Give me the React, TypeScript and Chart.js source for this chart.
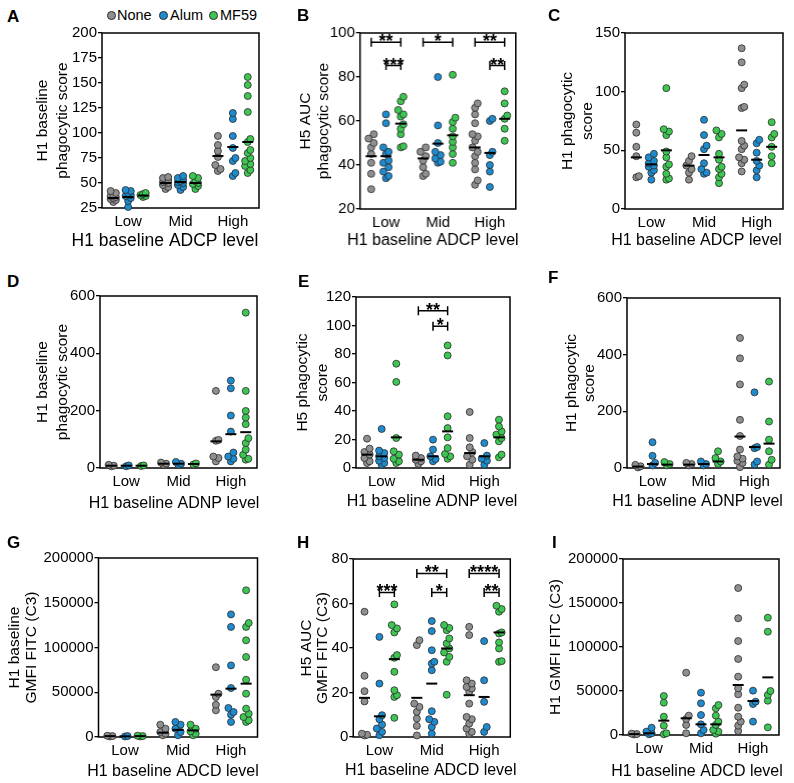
import React, { useEffect, useRef } from 'react';
import { Chart, registerables } from 'chart.js';
Chart.register(...registerables);

const FONT = "'Liberation Sans', Arial, Helvetica, sans-serif";

const levels = ['Low', 'Mid', 'High'];
const groups = ['None', 'Alum', 'MF59'];
const groupColors = ['#8f8f8f', '#1e8bcf', '#3ec653'];
const groupOffsets = [-0.285, 0, 0.285];

// ---------- Panel A ----------
const aNone = [[31, 33, 34, 35, 36, 37, 38, 40, 42], [44, 46, 48, 50, 51, 52, 53, 55, 56], [62, 64, 68, 76, 82, 88, 97]];
const aAlum = [[26, 32, 35, 37, 38, 40, 42, 43], [43, 46, 48, 50, 51, 52, 53, 55, 57], [57, 60, 72, 75, 85, 97, 114, 120]];
const aMf59 = [[36, 37, 38, 39, 40], [44, 47, 49, 50, 52, 55, 57], [60, 63, 67, 69, 72, 75, 80, 83, 91, 94, 121, 137, 148, 156]];
const aMedians = [[35, 50, 77], [36, 51, 86], [37.5, 50, 91]];
const aTicks = { min: 25, max: 200, step: 25 };

// ---------- Panel B ----------
const bNone = [[29, 36, 41, 45, 48, 50, 52, 54], [35, 36, 39, 42, 44, 46, 48], [31, 33, 38, 41, 44, 46, 48, 51, 53, 54, 59, 63, 66, 68]];
const bAlum = [[34, 35, 37, 39, 41, 42, 45, 46, 48, 59, 63], [41, 41.5, 43, 44.5, 46, 50, 58, 80], [30, 37, 40, 44.5, 46, 60, 61]];
const bMf59 = [[48, 48.5, 54, 56.5, 58.5, 62, 63, 65, 69, 71], [41, 45, 48, 50.5, 53, 56.5, 59.5, 61.5, 81], [51, 56.5, 61, 62.5, 68, 73.5]];
const bMedians = [[44, 43, 48], [44, 49.7, 45.5], [58.8, 53.5, 61]];
const bTicks = { min: 20, max: 100, step: 20 };
const bBrackets = [
  { level: 0, from: 0, to: 2, y: 95.8, label: '**' },
  { level: 0, from: 1, to: 2, y: 85.2, label: '***' },
  { level: 1, from: 0, to: 2, y: 95.8, label: '*' },
  { level: 2, from: 0, to: 2, y: 95.8, label: '**' },
  { level: 2, from: 1, to: 2, y: 85.2, label: '**' },
];

// ---------- Panel C ----------
const cNone = [[27, 28, 45, 53, 65, 72], [25, 31, 34, 37, 41, 45], [32, 39, 42, 44, 51, 54, 58, 86, 87, 103, 106, 125, 137]];
const cAlum = [[25, 31, 33, 36, 37, 39, 41, 44, 47], [30, 31, 34, 39, 51, 54, 63, 76], [27, 33, 37, 41, 48, 56, 59]];
const cMf59 = [[25, 26, 30, 36, 38, 44, 49, 63, 66, 68, 103], [22, 27, 30, 34, 36, 42, 47, 61, 64, 67], [39, 45, 53, 61, 64, 74]];
const cMedians = [[44, 37, 67], [38, 46, 42], [50, 44, 53]];
const cTicks = { min: 0, max: 150, step: 50 };

// ---------- Panel D ----------
const dNone = [[6, 8, 11], [11, 15, 19], [23, 35, 40, 95, 98, 269]];
const dAlum = [[6, 9], [11, 15, 21], [23, 32, 40, 54, 127, 183, 278, 305]];
const dMf59 = [[7, 9], [12, 16], [29, 32, 46, 64, 87, 104, 153, 176, 199, 269, 542]];
const dMedians = [[8, 15, 93], [8, 15, 118], [8, 14, 125]];
const dTicks = { min: 0, max: 600, step: 200 };

// ---------- Panel E ----------
const eNone = [[3.5, 4.7, 7, 9.4, 11.2, 13.6, 20.6], [2.8, 4.7, 5.8, 7, 8.7], [2.3, 5.8, 8.2, 11.2, 14.5, 21, 39.3]];
const eAlum = [[2.3, 3.5, 5.1, 7, 8.2, 10.5, 12.2, 27.4], [4.7, 6.3, 8.2, 12.9, 19.9], [2.3, 5.1, 6.5, 8.7, 17.5]];
const eMf59 = [[3.5, 4.7, 6.5, 9.4, 11.7, 21, 60.4, 73.2], [6.5, 8.2, 9.8, 14, 21.5, 28, 36.3, 79, 86], [7.5, 9.4, 18.7, 21, 23.4, 25.7, 29.2, 33.9]];
const eMedians = [[9.4, 5.8, 10.5], [8.2, 8.2, 8.2], [21.5, 25.7, 21.5]];
const eTicks = { min: 0, max: 120, step: 20 };
const eBrackets = [
  { level: 1, from: 0, to: 2, y: 110.4, label: '**' },
  { level: 1, from: 1, to: 2, y: 99.4, label: '*' },
];

// ---------- Panel F ----------
const fNone = [[2, 6, 11], [9, 14, 18], [3, 18, 25, 33, 41, 65, 113, 170, 295, 387, 459]];
const fAlum = [[9, 18, 43, 91], [9, 14, 23], [12, 23, 70, 74, 267]];
const fMf59 = [[9, 14, 21], [14, 23, 35, 59], [12, 29, 59, 100, 164, 305]];
const fMedians = [[5, 12, 111], [14, 14, 74], [12, 23, 86]];
const fTicks = { min: 0, max: 600, step: 200 };

// ---------- Panel G ----------
const gNone = [[600, 1000, 1400], [1900, 3700, 5600, 9300, 13800], [29800, 36100, 44700, 48400, 78000]];
const gAlum = [[600, 1000], [1900, 5600, 9300, 13800, 16800], [16800, 25000, 27900, 32400, 54700, 80000, 123000, 137000]];
const gMf59 = [[600, 1000, 1400], [1900, 3700, 6300, 9300, 13800], [16800, 18600, 22300, 26000, 31700, 48400, 64000, 89400, 108000, 123000, 127400, 163900]];
const gMedians = [[1000, 4800, 47300], [800, 8000, 54000], [1000, 7400, 59600]];
const gTicks = { min: 0, max: 200000, step: 50000 };

// ---------- Panel H ----------
const hNone = [[0.7, 1, 1.5, 16, 20.6, 27.5, 56.3], [0.7, 5, 8.3, 11.3, 13.5, 15, 41.3, 43.5], [1.5, 2.3, 3.8, 6, 8, 9, 15, 20.3, 21.8, 22.5, 24, 25.5, 45.8, 49.5]];
const hAlum = [[0.8, 2.3, 3.8, 5.6, 8, 9.8, 24, 45], [1.5, 4.5, 6.8, 8, 11.6, 30, 33, 33.8, 39, 47.6, 52.1], [2.3, 4.5, 15.8, 25.5, 43.1]];
const hMf59 = [[8.6, 18, 18.8, 21, 29.3, 35.6, 36.8, 47, 48.8, 50.3, 59.6], [19, 33.8, 36, 38, 39.8, 42, 44.3, 48, 49, 50.3], [33.8, 34.1, 39.8, 42.5, 46.5, 47, 56.3, 57.5, 59]];
const hMedians = [[17.6, 17.6, 18.8], [9.3, 24, 18], [35, 39.8, 47]];
const hTicks = { min: 0, max: 80, step: 20 };
const hBrackets = [
  { level: 0, from: 1, to: 2, y: 65, label: '***' },
  { level: 1, from: 0, to: 2, y: 73.5, label: '**' },
  { level: 1, from: 1, to: 2, y: 65, label: '*' },
  { level: 2, from: 0, to: 2, y: 73.5, label: '****' },
  { level: 2, from: 1, to: 2, y: 65, label: '**' },
];

// ---------- Panel I ----------
const iNone = [[600, 1000, 1500], [1900, 11400, 18200, 22000, 70800], [4500, 10600, 15200, 20800, 31000, 46200, 53000, 66300, 86400, 106800, 132600, 167000]];
const iAlum = [[800, 1900, 3800, 8300], [1900, 5700, 12100, 22700, 36000, 48100], [15200, 35200, 37900, 50400]];
const iMf59 = [[800, 1900, 10600, 20800, 36700, 44300], [1500, 3800, 5700, 11400, 15200, 22000, 30300, 34000], [8700, 39000, 45500, 50000, 117400, 133300]];
const iMedians = [[1000, 19000, 56800], [2000, 12100, 38600], [16300, 12100, 65500]];
const iTicks = { min: 0, max: 200000, step: 50000 };

type Bracket = { level: number; from: number; to: number; y: number; label: string };
type Panel = {
  letter: string;
  series: number[][][];
  medians: number[][];
  ticks: { min: number; max: number; step: number };
  brackets: Bracket[];
  yTitle: string[];
  xTitle: string;
  plot: { l: number; t: number; r: number; b: number };
  yT1: number;
  yLh: number;
  xTitleX: number;
  xTitleY: number;
  xTitleSize: number;
  letterX: number;
  letterBase: number;
};

const panels: Panel[] = [
  { letter: 'A', series: [aNone, aAlum, aMf59], medians: aMedians, ticks: aTicks, brackets: [], yTitle: ['H1 baseline', 'phagocytic score'], xTitle: 'H1 baseline ADCP level', plot: { l: 102, t: 33, r: 259, b: 208 }, yT1: 43, yLh: 20, xTitleX: 165, xTitleY: 240.7, xTitleSize: 17.5, letterX: 7, letterBase: 22 },
  { letter: 'B', series: [bNone, bAlum, bMf59], medians: bMedians, ticks: bTicks, brackets: bBrackets, yTitle: ['H5 AUC', 'phagocytic score'], xTitle: 'H1 baseline ADCP level', plot: { l: 360, t: 33, r: 515, b: 209 }, yT1: 306, yLh: 17.5, xTitleX: 432.5, xTitleY: 240.7, xTitleSize: 16, letterX: 297, letterBase: 21 },
  { letter: 'C', series: [cNone, cAlum, cMf59], medians: cMedians, ticks: cTicks, brackets: [], yTitle: ['H1 phagocytic', 'score'], xTitle: 'H1 baseline ADCP level', plot: { l: 625, t: 33, r: 783, b: 209 }, yT1: 568, yLh: 20, xTitleX: 696.5, xTitleY: 241, xTitleSize: 16, letterX: 548, letterBase: 21 },
  { letter: 'D', series: [dNone, dAlum, dMf59], medians: dMedians, ticks: dTicks, brackets: [], yTitle: ['H1 baseline', 'phagocytic score'], xTitle: 'H1 baseline ADNP level', plot: { l: 100, t: 296, r: 257, b: 468 }, yT1: 43, yLh: 20, xTitleX: 174, xTitleY: 504, xTitleSize: 16, letterX: 7, letterBase: 287 },
  { letter: 'E', series: [eNone, eAlum, eMf59], medians: eMedians, ticks: eTicks, brackets: eBrackets, yTitle: ['H5 phagocytic', 'score'], xTitle: 'H1 baseline ADNP level', plot: { l: 356, t: 297, r: 510, b: 468 }, yT1: 303, yLh: 20, xTitleX: 432, xTitleY: 502, xTitleSize: 16, letterX: 298, letterBase: 287 },
  { letter: 'F', series: [fNone, fAlum, fMf59], medians: fMedians, ticks: fTicks, brackets: [], yTitle: ['H1 phagocytic', 'score'], xTitle: 'H1 baseline ADNP level', plot: { l: 627, t: 298, r: 780, b: 468 }, yT1: 572, yLh: 18, xTitleX: 697.5, xTitleY: 502, xTitleSize: 16, letterX: 548, letterBase: 283 },
  { letter: 'G', series: [gNone, gAlum, gMf59], medians: gMedians, ticks: gTicks, brackets: [], yTitle: ['H1 baseline', 'GMFI FITC (C3)'], xTitle: 'H1 baseline ADCD level', plot: { l: 98, t: 558, r: 257, b: 737 }, yT1: 14, yLh: 17, xTitleX: 172.5, xTitleY: 772, xTitleSize: 16, letterX: 7, letterBase: 548 },
  { letter: 'H', series: [hNone, hAlum, hMf59], medians: hMedians, ticks: hTicks, brackets: hBrackets, yTitle: ['H5 AUC', 'GMFI FITC (C3)'], xTitle: 'H1 baseline ADCD level', plot: { l: 353, t: 559, r: 510, b: 737 }, yT1: 306, yLh: 16.5, xTitleX: 430.5, xTitleY: 771, xTitleSize: 16, letterX: 297, letterBase: 548 },
  { letter: 'I', series: [iNone, iAlum, iMf59], medians: iMedians, ticks: iTicks, brackets: [], yTitle: ['H1 GMFI FITC (C3)'], xTitle: 'H1 baseline ADCD level', plot: { l: 623, t: 559, r: 779, b: 735 }, yT1: 556, yLh: 18, xTitleX: 697, xTitleY: 772, xTitleSize: 16, letterX: 552, letterBase: 548 },
];

// Narrow beeswarm-style horizontal dodge (layout only): returns x offsets in axis units
function swarmOffsets(values: number[], pxPerY: number, pxPerX: number): number[] {
  const order = values.map((_, i) => i).sort((a, b) => values[a] - values[b]);
  const placed: { x: number; y: number }[] = [];
  const out = new Array(values.length).fill(0);
  const step = 2.6;
  const minD = 5.2;
  const cands = [0, 1, -1];
  for (const i of order) {
    const yp = values[i] * pxPerY;
    let chosen: number | null = null;
    let best = 0;
    let bestD = -1;
    for (const c of cands) {
      const xp = c * step;
      let md = Infinity;
      for (const p of placed) {
        const d = Math.hypot(xp - p.x, yp - p.y);
        if (d < md) md = d;
      }
      if (md >= minD) { chosen = xp; break; }
      if (md > bestD) { bestD = md; best = xp; }
    }
    const xp = chosen === null ? best : chosen;
    placed.push({ x: xp, y: yp });
    out[i] = xp / pxPerX;
  }
  return out;
}

function geometry(p: Panel) {
  const left = p.yT1 - p.yLh / 2;
  const top = p.plot.t - 15;
  const right = Math.min(p.plot.r + 12, 792);
  const bottom = p.plot.b + 48;
  return { left, top, width: right - left, height: bottom - top, padRight: right - p.plot.r };
}

function buildChart(canvas: HTMLCanvasElement, p: Panel) {
  const g = geometry(p);
  const pxPerX = (p.plot.r - p.plot.l) / 3;
  const pxPerY = (p.plot.b - p.plot.t) / (p.ticks.max - p.ticks.min);
  const Wy = p.plot.l - g.left;

  const medianData: { x: number; y: number }[] = [];
  p.medians.forEach((row, gi) => row.forEach((m, ci) => medianData.push({ x: ci + 0.5 + groupOffsets[gi], y: m })));

  const pointSets = p.series.map((grp, gi) => {
    const data: { x: number; y: number }[] = [];
    grp.forEach((vals, ci) => {
      const offs = swarmOffsets(vals, pxPerY, pxPerX);
      vals.forEach((v, k) => data.push({ x: ci + 0.5 + groupOffsets[gi] + offs[k], y: v }));
    });
    return {
      label: groups[gi],
      data,
      pointBackgroundColor: groupColors[gi],
      pointBorderColor: '#2b2b2b',
      pointBorderWidth: 0.8,
      pointRadius: 3.5,
      pointHoverRadius: 3.5,
      order: 1,
      clip: false as any,
    };
  });

  const decor = {
    id: 'decor' + p.letter,
    beforeDatasetsDraw(chart: any) {
      const { ctx, chartArea: ca } = chart;
      ctx.save();
      ctx.strokeStyle = '#000';
      ctx.lineWidth = 1.5;
      ctx.strokeRect(ca.left, ca.top, ca.right - ca.left, ca.bottom - ca.top);
      ctx.restore();
    },
    afterDatasetsDraw(chart: any) {
      const { ctx, scales } = chart;
      const xs = scales.x;
      const ys = scales.y;
      ctx.save();
      ctx.strokeStyle = '#000';
      ctx.fillStyle = '#000';
      ctx.lineWidth = 1.5;
      for (const br of p.brackets) {
        const x1 = xs.getPixelForValue(br.level + 0.5 + groupOffsets[br.from]);
        const x2 = xs.getPixelForValue(br.level + 0.5 + groupOffsets[br.to]);
        const yy = ys.getPixelForValue(br.y);
        ctx.beginPath();
        ctx.moveTo(x1, yy); ctx.lineTo(x2, yy);
        ctx.moveTo(x1, yy - 4.5); ctx.lineTo(x1, yy + 4.5);
        ctx.moveTo(x2, yy - 4.5); ctx.lineTo(x2, yy + 4.5);
        ctx.stroke();
        ctx.font = `bold 18px ${FONT}`;
        ctx.textAlign = 'center';
        ctx.textBaseline = 'alphabetic';
        ctx.fillText(br.label, (x1 + x2) / 2, yy + 5);
      }
      ctx.font = `${p.xTitleSize}px ${FONT}`;
      ctx.textAlign = 'center';
      ctx.textBaseline = 'middle';
      ctx.fillText(p.xTitle, p.xTitleX - g.left, p.xTitleY - g.top);
      ctx.restore();
    },
  };

  return new Chart(canvas, {
    type: 'scatter',
    data: {
      datasets: [
        {
          label: 'median',
          data: medianData,
          pointStyle: 'line',
          pointRadius: 5.5,
          pointHoverRadius: 5.5,
          pointBorderWidth: 2,
          pointBorderColor: '#000',
          pointBackgroundColor: '#000',
          order: 0,
          clip: false as any,
        } as any,
        ...(pointSets as any[]),
      ],
    },
    options: {
      animation: false,
      responsive: true,
      maintainAspectRatio: false,
      events: [],
      layout: { padding: { top: 15, right: g.padRight, left: 0, bottom: 0 } },
      plugins: { legend: { display: false }, tooltip: { enabled: false }, title: { display: false } },
      scales: {
        x: {
          type: 'linear',
          min: 0,
          max: 3,
          afterBuildTicks: (s: any) => { s.ticks = levels.map((_, i) => ({ value: i + 0.5 })); },
          afterFit: (s: any) => { s.height = 48; },
          ticks: {
            callback: (_v: any, i: number) => levels[i],
            font: { family: FONT, size: 15 },
            color: '#000',
            padding: 5,
            maxRotation: 0,
            autoSkip: false,
          },
          grid: { display: false, drawTicks: false },
          border: { display: false },
        },
        y: {
          type: 'linear',
          min: p.ticks.min,
          max: p.ticks.max,
          afterFit: (s: any) => { s.width = Wy; },
          ticks: {
            stepSize: p.ticks.step,
            callback: (v: any) => String(v),
            font: { family: FONT, size: 15 },
            color: '#000',
            padding: 1,
          },
          grid: { display: true, drawOnChartArea: false, drawTicks: true, tickLength: 4, color: '#000', lineWidth: 1.3 },
          border: { display: false },
          title: {
            display: true,
            text: p.yTitle,
            color: '#000',
            padding: 0,
            font: { family: FONT, size: 15.5, lineHeight: p.yLh + 'px' },
          },
        },
      },
    } as any,
    plugins: [decor],
  });
}

function PanelChart({ panel }: { panel: Panel }) {
  const ref = useRef<HTMLCanvasElement | null>(null);
  useEffect(() => {
    if (!ref.current) return;
    const chart = buildChart(ref.current, panel);
    return () => chart.destroy();
  }, [panel]);
  const g = geometry(panel);
  return (
    <div style={{ position: 'absolute', left: g.left, top: g.top, width: g.width, height: g.height }}>
      <canvas ref={ref} />
    </div>
  );
}

const legendCircleX = [111, 163, 213];
const legendTextX = [117, 170, 220];

export default function App() {
  return (
    <div style={{ position: 'absolute', left: 0, top: 0, width: 794, height: 783, overflow: 'hidden', background: '#fff', fontFamily: FONT, color: '#000' }}>
      {groups.map((name, i) => (
        <React.Fragment key={name}>
          <div style={{ position: 'absolute', left: legendCircleX[i] - 4.2, top: 10.8, width: 6.8, height: 6.8, borderRadius: '50%', background: groupColors[i], border: '0.8px solid #2b2b2b' }} />
          <div style={{ position: 'absolute', left: legendTextX[i], top: 6, fontSize: 14.5, lineHeight: '18px', whiteSpace: 'nowrap' }}>{name}</div>
        </React.Fragment>
      ))}
      {panels.map((p) => (
        <PanelChart key={p.letter} panel={p} />
      ))}
      {panels.map((p) => (
        <div key={'L' + p.letter} style={{ position: 'absolute', left: p.letterX, top: p.letterBase - 14.4, fontSize: 17, lineHeight: '17px', fontWeight: 'bold' }}>{p.letter}</div>
      ))}
    </div>
  );
}
